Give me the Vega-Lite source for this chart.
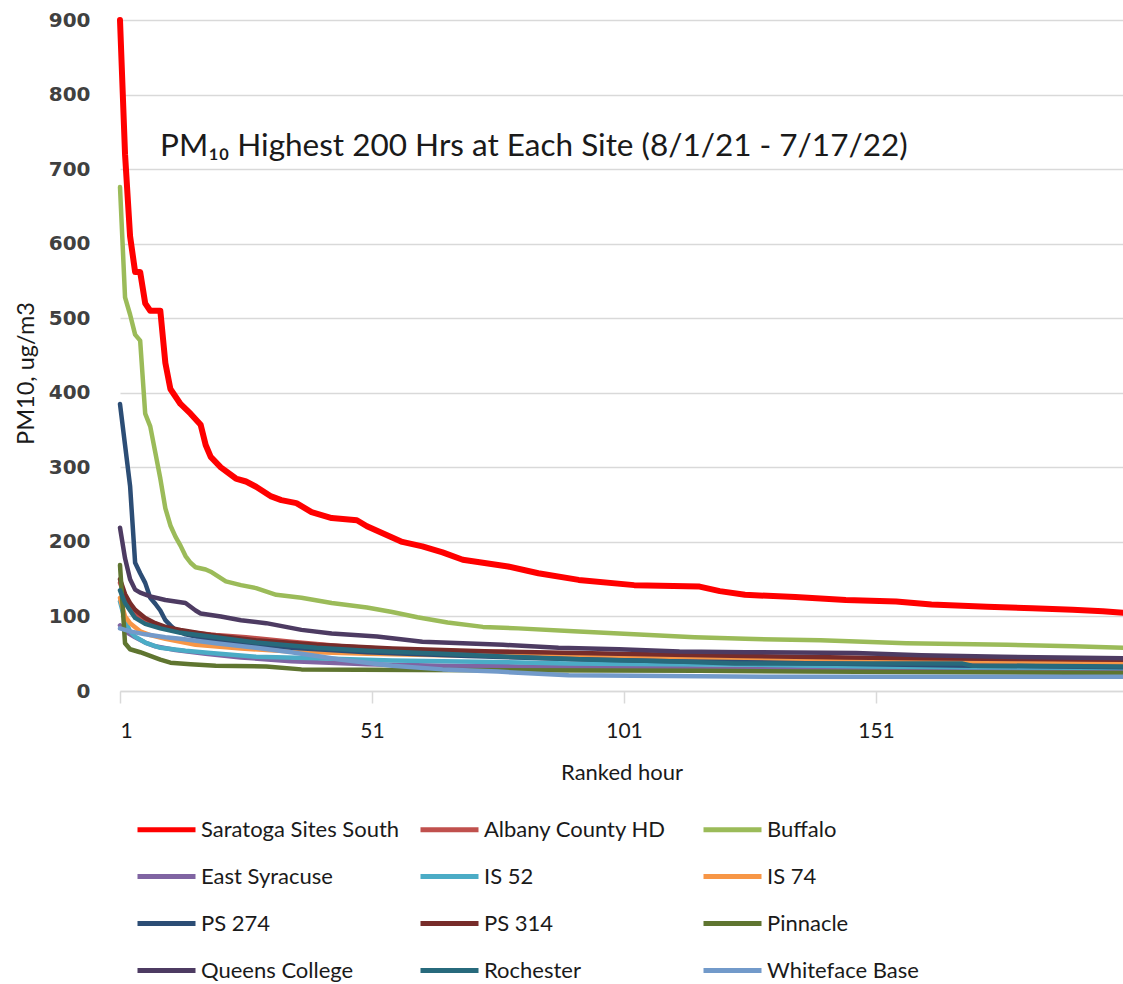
{
  "$schema": "https://vega.github.io/schema/vega-lite/v6.json",
  "autosize": {"type": "none"},
  "padding": {"left": 120, "top": 20, "right": 0, "bottom": 293},
  "width": 1003,
  "height": 671,
  "background": "white",
  "title": {
    "text": "PM₁₀ Highest 200 Hrs at Each Site (8/1/21 - 7/17/22)",
    "anchor": "start", "frame": "group", "orient": "top",
    "offset": -168, "dx": 40, "baseline": "middle",
    "font": "Lato", "fontSize": 31.5, "fontWeight": "normal", "color": "#1a1a1a"
  },
  "data": {"values": [
    {"s":"Saratoga Sites South","r":1,"v":900},{"s":"Saratoga Sites South","r":2,"v":720},{"s":"Saratoga Sites South","r":3,"v":610},{"s":"Saratoga Sites South","r":4,"v":562},{"s":"Saratoga Sites South","r":5,"v":562},{"s":"Saratoga Sites South","r":6,"v":520},{"s":"Saratoga Sites South","r":7,"v":510},{"s":"Saratoga Sites South","r":9,"v":510},{"s":"Saratoga Sites South","r":10,"v":440},{"s":"Saratoga Sites South","r":11,"v":405},{"s":"Saratoga Sites South","r":12,"v":395},{"s":"Saratoga Sites South","r":13,"v":385},{"s":"Saratoga Sites South","r":15,"v":372},{"s":"Saratoga Sites South","r":17,"v":357},{"s":"Saratoga Sites South","r":18,"v":330},{"s":"Saratoga Sites South","r":19,"v":314},{"s":"Saratoga Sites South","r":21,"v":300},{"s":"Saratoga Sites South","r":24,"v":285},{"s":"Saratoga Sites South","r":26,"v":281},{"s":"Saratoga Sites South","r":28,"v":274},{"s":"Saratoga Sites South","r":31,"v":261},{"s":"Saratoga Sites South","r":33,"v":256},{"s":"Saratoga Sites South","r":36,"v":252},{"s":"Saratoga Sites South","r":39,"v":240},{"s":"Saratoga Sites South","r":43,"v":232},{"s":"Saratoga Sites South","r":48,"v":229},{"s":"Saratoga Sites South","r":50,"v":221},{"s":"Saratoga Sites South","r":54,"v":209},{"s":"Saratoga Sites South","r":57,"v":200},{"s":"Saratoga Sites South","r":61,"v":194},{"s":"Saratoga Sites South","r":65,"v":186},{"s":"Saratoga Sites South","r":69,"v":176},{"s":"Saratoga Sites South","r":73,"v":172},{"s":"Saratoga Sites South","r":78,"v":167},{"s":"Saratoga Sites South","r":84,"v":158},{"s":"Saratoga Sites South","r":92,"v":149},{"s":"Saratoga Sites South","r":103,"v":142},{"s":"Saratoga Sites South","r":116,"v":140},{"s":"Saratoga Sites South","r":120,"v":134},{"s":"Saratoga Sites South","r":125,"v":129},{"s":"Saratoga Sites South","r":135,"v":126},{"s":"Saratoga Sites South","r":145,"v":122},{"s":"Saratoga Sites South","r":155,"v":120},{"s":"Saratoga Sites South","r":162,"v":116},{"s":"Saratoga Sites South","r":173,"v":113},{"s":"Saratoga Sites South","r":182,"v":111},{"s":"Saratoga Sites South","r":190,"v":109},{"s":"Saratoga Sites South","r":196,"v":107},{"s":"Saratoga Sites South","r":200,"v":105},
    {"s":"Albany County HD","r":1,"v":145},{"s":"Albany County HD","r":2,"v":128},{"s":"Albany County HD","r":3,"v":115},{"s":"Albany County HD","r":4,"v":105},{"s":"Albany County HD","r":5,"v":98},{"s":"Albany County HD","r":7,"v":90},{"s":"Albany County HD","r":10,"v":84},{"s":"Albany County HD","r":14,"v":79},{"s":"Albany County HD","r":20,"v":75},{"s":"Albany County HD","r":26,"v":72},{"s":"Albany County HD","r":35,"v":66},{"s":"Albany County HD","r":45,"v":60},{"s":"Albany County HD","r":55,"v":56},{"s":"Albany County HD","r":70,"v":53},{"s":"Albany County HD","r":80,"v":52},{"s":"Albany County HD","r":95,"v":49},{"s":"Albany County HD","r":110,"v":46},{"s":"Albany County HD","r":130,"v":43},{"s":"Albany County HD","r":150,"v":41},{"s":"Albany County HD","r":175,"v":39},{"s":"Albany County HD","r":200,"v":38},
    {"s":"Buffalo","r":1,"v":676},{"s":"Buffalo","r":2,"v":528},{"s":"Buffalo","r":3,"v":505},{"s":"Buffalo","r":4,"v":478},{"s":"Buffalo","r":5,"v":470},{"s":"Buffalo","r":6,"v":372},{"s":"Buffalo","r":7,"v":355},{"s":"Buffalo","r":8,"v":320},{"s":"Buffalo","r":9,"v":285},{"s":"Buffalo","r":10,"v":245},{"s":"Buffalo","r":11,"v":222},{"s":"Buffalo","r":12,"v":207},{"s":"Buffalo","r":13,"v":195},{"s":"Buffalo","r":14,"v":181},{"s":"Buffalo","r":15,"v":172},{"s":"Buffalo","r":16,"v":166},{"s":"Buffalo","r":18,"v":163},{"s":"Buffalo","r":19,"v":160},{"s":"Buffalo","r":22,"v":147},{"s":"Buffalo","r":25,"v":142},{"s":"Buffalo","r":28,"v":138},{"s":"Buffalo","r":32,"v":129},{"s":"Buffalo","r":37,"v":125},{"s":"Buffalo","r":43,"v":118},{"s":"Buffalo","r":50,"v":112},{"s":"Buffalo","r":55,"v":106},{"s":"Buffalo","r":60,"v":99},{"s":"Buffalo","r":66,"v":92},{"s":"Buffalo","r":73,"v":86},{"s":"Buffalo","r":80,"v":84},{"s":"Buffalo","r":91,"v":80},{"s":"Buffalo","r":100,"v":77},{"s":"Buffalo","r":106,"v":75},{"s":"Buffalo","r":115,"v":72},{"s":"Buffalo","r":125,"v":70},{"s":"Buffalo","r":140,"v":68},{"s":"Buffalo","r":157,"v":64},{"s":"Buffalo","r":177,"v":62},{"s":"Buffalo","r":190,"v":60},{"s":"Buffalo","r":200,"v":58},
    {"s":"East Syracuse","r":1,"v":88},{"s":"East Syracuse","r":2,"v":80},{"s":"East Syracuse","r":4,"v":72},{"s":"East Syracuse","r":6,"v":65},{"s":"East Syracuse","r":8,"v":60},{"s":"East Syracuse","r":12,"v":55},{"s":"East Syracuse","r":18,"v":50},{"s":"East Syracuse","r":25,"v":45},{"s":"East Syracuse","r":35,"v":40},{"s":"East Syracuse","r":50,"v":36},{"s":"East Syracuse","r":65,"v":34},{"s":"East Syracuse","r":80,"v":33},{"s":"East Syracuse","r":100,"v":32},{"s":"East Syracuse","r":120,"v":30},{"s":"East Syracuse","r":150,"v":28},{"s":"East Syracuse","r":175,"v":27},{"s":"East Syracuse","r":200,"v":26},
    {"s":"IS 52","r":1,"v":120},{"s":"IS 52","r":2,"v":95},{"s":"IS 52","r":3,"v":80},{"s":"IS 52","r":4,"v":73},{"s":"IS 52","r":6,"v":65},{"s":"IS 52","r":9,"v":58},{"s":"IS 52","r":14,"v":54},{"s":"IS 52","r":19,"v":51},{"s":"IS 52","r":28,"v":46},{"s":"IS 52","r":40,"v":44},{"s":"IS 52","r":55,"v":41},{"s":"IS 52","r":75,"v":39},{"s":"IS 52","r":90,"v":37},{"s":"IS 52","r":110,"v":36},{"s":"IS 52","r":130,"v":35},{"s":"IS 52","r":150,"v":33},{"s":"IS 52","r":168,"v":32},{"s":"IS 52","r":200,"v":31},
    {"s":"IS 74","r":1,"v":125},{"s":"IS 74","r":2,"v":100},{"s":"IS 74","r":3,"v":91},{"s":"IS 74","r":5,"v":80},{"s":"IS 74","r":7,"v":75},{"s":"IS 74","r":10,"v":70},{"s":"IS 74","r":16,"v":62},{"s":"IS 74","r":25,"v":57},{"s":"IS 74","r":35,"v":53},{"s":"IS 74","r":50,"v":50},{"s":"IS 74","r":65,"v":48},{"s":"IS 74","r":80,"v":47},{"s":"IS 74","r":100,"v":46},{"s":"IS 74","r":115,"v":45},{"s":"IS 74","r":125,"v":44},{"s":"IS 74","r":140,"v":42},{"s":"IS 74","r":160,"v":40},{"s":"IS 74","r":180,"v":38},{"s":"IS 74","r":200,"v":36},
    {"s":"PS 274","r":1,"v":385},{"s":"PS 274","r":2,"v":330},{"s":"PS 274","r":3,"v":275},{"s":"PS 274","r":4,"v":172},{"s":"PS 274","r":5,"v":158},{"s":"PS 274","r":6,"v":145},{"s":"PS 274","r":7,"v":125},{"s":"PS 274","r":8,"v":117},{"s":"PS 274","r":9,"v":108},{"s":"PS 274","r":10,"v":95},{"s":"PS 274","r":11,"v":88},{"s":"PS 274","r":12,"v":82},{"s":"PS 274","r":14,"v":76},{"s":"PS 274","r":18,"v":70},{"s":"PS 274","r":25,"v":64},{"s":"PS 274","r":35,"v":58},{"s":"PS 274","r":50,"v":52},{"s":"PS 274","r":70,"v":47},{"s":"PS 274","r":90,"v":43},{"s":"PS 274","r":110,"v":40},{"s":"PS 274","r":140,"v":37},{"s":"PS 274","r":170,"v":34},{"s":"PS 274","r":200,"v":32},
    {"s":"PS 314","r":1,"v":150},{"s":"PS 314","r":2,"v":130},{"s":"PS 314","r":3,"v":118},{"s":"PS 314","r":4,"v":109},{"s":"PS 314","r":6,"v":98},{"s":"PS 314","r":8,"v":91},{"s":"PS 314","r":10,"v":86},{"s":"PS 314","r":13,"v":82},{"s":"PS 314","r":19,"v":75},{"s":"PS 314","r":28,"v":68},{"s":"PS 314","r":40,"v":62},{"s":"PS 314","r":55,"v":57},{"s":"PS 314","r":75,"v":53},{"s":"PS 314","r":100,"v":50},{"s":"PS 314","r":125,"v":47},{"s":"PS 314","r":145,"v":45},{"s":"PS 314","r":160,"v":44},{"s":"PS 314","r":180,"v":43},{"s":"PS 314","r":200,"v":42},
    {"s":"Pinnacle","r":1,"v":169},{"s":"Pinnacle","r":2,"v":64},{"s":"Pinnacle","r":3,"v":56},{"s":"Pinnacle","r":5,"v":52},{"s":"Pinnacle","r":7,"v":47},{"s":"Pinnacle","r":9,"v":42},{"s":"Pinnacle","r":11,"v":38},{"s":"Pinnacle","r":15,"v":36},{"s":"Pinnacle","r":20,"v":34},{"s":"Pinnacle","r":30,"v":33},{"s":"Pinnacle","r":37,"v":29},{"s":"Pinnacle","r":60,"v":28},{"s":"Pinnacle","r":116,"v":27},{"s":"Pinnacle","r":137,"v":26},{"s":"Pinnacle","r":200,"v":24},
    {"s":"Queens College","r":1,"v":219},{"s":"Queens College","r":2,"v":178},{"s":"Queens College","r":3,"v":150},{"s":"Queens College","r":4,"v":136},{"s":"Queens College","r":5,"v":132},{"s":"Queens College","r":7,"v":127},{"s":"Queens College","r":10,"v":122},{"s":"Queens College","r":14,"v":118},{"s":"Queens College","r":16,"v":108},{"s":"Queens College","r":17,"v":104},{"s":"Queens College","r":21,"v":100},{"s":"Queens College","r":25,"v":95},{"s":"Queens College","r":30,"v":91},{"s":"Queens College","r":37,"v":82},{"s":"Queens College","r":43,"v":77},{"s":"Queens College","r":52,"v":73},{"s":"Queens College","r":61,"v":66},{"s":"Queens College","r":77,"v":62},{"s":"Queens College","r":88,"v":58},{"s":"Queens College","r":100,"v":56},{"s":"Queens College","r":112,"v":53},{"s":"Queens College","r":125,"v":52},{"s":"Queens College","r":147,"v":51},{"s":"Queens College","r":160,"v":48},{"s":"Queens College","r":176,"v":46},{"s":"Queens College","r":200,"v":44},
    {"s":"Rochester","r":1,"v":135},{"s":"Rochester","r":2,"v":118},{"s":"Rochester","r":3,"v":108},{"s":"Rochester","r":4,"v":98},{"s":"Rochester","r":6,"v":90},{"s":"Rochester","r":9,"v":84},{"s":"Rochester","r":13,"v":78},{"s":"Rochester","r":20,"v":72},{"s":"Rochester","r":28,"v":65},{"s":"Rochester","r":40,"v":58},{"s":"Rochester","r":50,"v":54},{"s":"Rochester","r":65,"v":50},{"s":"Rochester","r":78,"v":46},{"s":"Rochester","r":95,"v":42},{"s":"Rochester","r":110,"v":40},{"s":"Rochester","r":123,"v":37},{"s":"Rochester","r":168,"v":37},{"s":"Rochester","r":170,"v":34},{"s":"Rochester","r":200,"v":33},
    {"s":"Whiteface Base","r":1,"v":84},{"s":"Whiteface Base","r":3,"v":80},{"s":"Whiteface Base","r":6,"v":76},{"s":"Whiteface Base","r":10,"v":72},{"s":"Whiteface Base","r":13,"v":70},{"s":"Whiteface Base","r":20,"v":64},{"s":"Whiteface Base","r":28,"v":58},{"s":"Whiteface Base","r":35,"v":52},{"s":"Whiteface Base","r":45,"v":42},{"s":"Whiteface Base","r":55,"v":34},{"s":"Whiteface Base","r":65,"v":29},{"s":"Whiteface Base","r":76,"v":26},{"s":"Whiteface Base","r":90,"v":21},{"s":"Whiteface Base","r":130,"v":19},{"s":"Whiteface Base","r":200,"v":19}
  ]},
  "mark": {"type": "line", "strokeJoin": "round", "strokeCap": "round"},
  "encoding": {
    "x": {
      "field": "r", "type": "quantitative",
      "scale": {"domain": [1, 200], "nice": false, "zero": false},
      "axis": {
        "values": [1, 51, 101, 151], "grid": false,
        "domainColor": "#d9d9d9", "domainWidth": 1.5,
        "tickColor": "#d9d9d9", "tickWidth": 1.5, "tickSize": 12,
        "labelFont": "Lato", "labelFontSize": 21, "labelColor": "#1a1a1a", "labelPadding": 17,
        "title": "Ranked hour", "titleFont": "Lato", "titleFontSize": 22,
        "titleFontWeight": "normal", "titleColor": "#1a1a1a", "titlePadding": 21
      }
    },
    "y": {
      "field": "v", "type": "quantitative",
      "scale": {"domain": [0, 900], "nice": false},
      "axis": {
        "values": [0, 100, 200, 300, 400, 500, 600, 700, 800, 900],
        "grid": true, "gridColor": "#d9d9d9", "gridWidth": 1.5,
        "domain": false, "ticks": false,
        "labelFont": "DejaVu Sans", "labelFontWeight": "bold", "labelFontSize": 20,
        "labelColor": "#404040", "labelPadding": 30,
        "title": "PM10, ug/m3", "titleFont": "Lato", "titleFontSize": 23.5,
        "titleFontWeight": "normal", "titleColor": "#1a1a1a", "titlePadding": 10,
        "titleY": 353
      }
    },
    "color": {
      "field": "s", "type": "nominal",
      "scale": {
        "domain": ["Saratoga Sites South", "Albany County HD", "Buffalo", "East Syracuse", "IS 52", "IS 74", "PS 274", "PS 314", "Pinnacle", "Queens College", "Rochester", "Whiteface Base"],
        "range": ["#ff0000", "#c0504d", "#9bbb59", "#8064a2", "#4bacc6", "#f79646", "#2c4d75", "#772c2a", "#5f7530", "#4d3b62", "#276a7c", "#729aca"]
      },
      "legend": {
        "orient": "none", "legendX": 15, "legendY": 778,
        "direction": "horizontal", "columns": 3, "gridAlign": "all",
        "columnPadding": 10, "rowPadding": 4,
        "symbolType": "stroke", "symbolSize": 3364, "symbolStrokeWidth": 5,
        "labelFont": "Lato", "labelFontSize": 22, "labelColor": "#1a1a1a",
        "labelOffset": 3, "labelLimit": 300, "title": null
      }
    },
    "strokeWidth": {
      "condition": {"test": "datum.s === 'Saratoga Sites South'", "value": 6},
      "value": 4.5
    }
  },
  "config": {"view": {"stroke": null}}
}
